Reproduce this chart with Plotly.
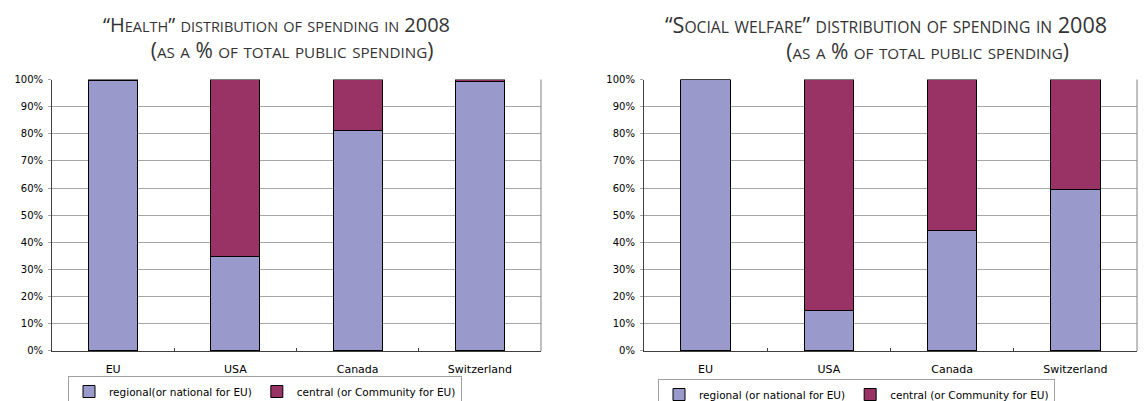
import plotly.graph_objects as go

# Categories and shares of total public spending (%), 2008
countries = ["EU", "USA", "Canada", "Switzerland"]

health_regional = [99.6, 34.7, 81.3, 99.2]
health_central = [0.4, 65.3, 18.7, 0.8]

welfare_regional = [100.0, 14.8, 44.3, 59.4]
welfare_central = [0.0, 85.2, 55.7, 40.6]

legend_left = ["regional(or national for EU)", "central (or Community for EU)"]
legend_right = ["regional (or national for EU)", "central (or Community for EU)"]

y_ticks = [0, 10, 20, 30, 40, 50, 60, 70, 80, 90, 100]
y_ticktext = [f"{v}%" for v in y_ticks]

COL_REGIONAL = "#9999cc"
COL_CENTRAL = "#993366"
GRID = "#a6a6a6"
AXIS = "#404040"
TITLE_FONT = "Open Sans"
TICK_FONT = "DejaVu Sans"


def small_caps(text, scale=1.0, indent=0):
    """Render text in small caps using sized spans, optionally indented."""
    big, small = 20 * scale, 14.5 * scale
    out = []
    run = ""
    run_small = None
    for ch in text:
        is_small = ch.islower()
        if run_small is None or is_small == run_small:
            run += ch
        else:
            out.append((run, run_small))
            run = ch
        run_small = is_small
    if run:
        out.append((run, run_small))
    parts = []
    if indent:
        parts.append("<span style='font-size:20px'>" + "\u00a0" * indent + "</span>")
    for s, sm in out:
        size = small if sm else big
        parts.append(f"<span style='font-size:{size:.1f}px'>{s.upper()}</span>")
    return "".join(parts)


fig = go.Figure()

panels = [
    ("x", "y", health_regional, health_central, legend_left, "legend"),
    ("x2", "y2", welfare_regional, welfare_central, legend_right, "legend2"),
]
for xa, ya, reg, cen, names, lg in panels:
    fig.add_trace(go.Bar(
        x=countries, y=reg, name=names[0], xaxis=xa, yaxis=ya,
        marker=dict(color=COL_REGIONAL, line=dict(color="#000000", width=1)),
        legend=lg,
    ))
    fig.add_trace(go.Bar(
        x=countries, y=cen, name=names[1], xaxis=xa, yaxis=ya,
        marker=dict(color=COL_CENTRAL, line=dict(color="#000000", width=1)),
        legend=lg,
    ))

y_dom = [0.1247, 0.8017]
xaxis_common = dict(
    showgrid=False, showline=True, linecolor=AXIS, linewidth=1,
    ticks="inside", tickson="boundaries", ticklen=3, tickcolor=AXIS,
    tickfont=dict(family=TICK_FONT, size=11, color="#000000"),
    ticklabelstandoff=8, automargin=False, fixedrange=True,
)
yaxis_common = dict(
    range=[0, 100], tickvals=y_ticks, ticktext=y_ticktext,
    showgrid=True, gridcolor=GRID, gridwidth=1,
    showline=True, linecolor=AXIS, linewidth=1,
    ticks="outside", ticklen=3, tickcolor=GRID,
    tickfont=dict(family=TICK_FONT, size=10, color="#000000"),
    ticklabelstandoff=3, automargin=False,
    zeroline=False, fixedrange=True,
)
legend_common = dict(
    orientation="h", xanchor="left", yanchor="top",
    bordercolor="#a0a0a0", borderwidth=1, bgcolor="rgba(255,255,255,0)",
    font=dict(family=TICK_FONT, size=10.5, color="#000000"),
    itemwidth=30, tracegroupgap=0, traceorder="normal",
)

fig.update_layout(
    width=1144, height=401,
    margin=dict(l=0, r=0, t=0, b=0, autoexpand=False),
    paper_bgcolor="white", plot_bgcolor="white",
    barmode="stack", bargap=0.6, bargroupgap=0,
    xaxis=dict(domain=[0.0455, 0.4729], anchor="y", **xaxis_common),
    yaxis=dict(domain=y_dom, anchor="x", **yaxis_common),
    xaxis2=dict(domain=[0.5629, 0.9939], anchor="y2", **xaxis_common),
    yaxis2=dict(domain=y_dom, anchor="x2", **yaxis_common),
    legend=dict(x=68 / 1144, y=1 - 376 / 401, **legend_common),
    legend2=dict(x=658 / 1144, y=1 - 379 / 401, **legend_common),
)

# Right-hand frame edge of each plot area
for xr, yr in (("x domain", "y domain"), ("x2 domain", "y2 domain")):
    fig.add_shape(type="line", xref=xr, yref=yr, x0=1, x1=1, y0=0, y1=1,
                  line=dict(color="#808080", width=1))

# Two-line small-caps titles (second line shifted right by leading spaces)
titles = [
    ("“Health” distribution of spending in 2008", 1.0,
     "(as a % of total public spending)", 1.05, 6, 276),
    ("“Social welfare” distribution of spending in 2008", 1.08,
     "(as a % of total public spending)", 1.05, 16, 886),
]
for line1, s1, line2, s2, indent, xc in titles:
    fig.add_annotation(
        text=small_caps(line1, s1) + "<br>" + small_caps(line2, s2, indent),
        xref="paper", yref="paper", x=xc / 1144, y=1 - 37 / 401,
        xanchor="center", yanchor="middle", align="center",
        showarrow=False, borderpad=0,
        font=dict(family=TITLE_FONT, size=20, color="#333333"),
    )

fig.write_html("out.html")
